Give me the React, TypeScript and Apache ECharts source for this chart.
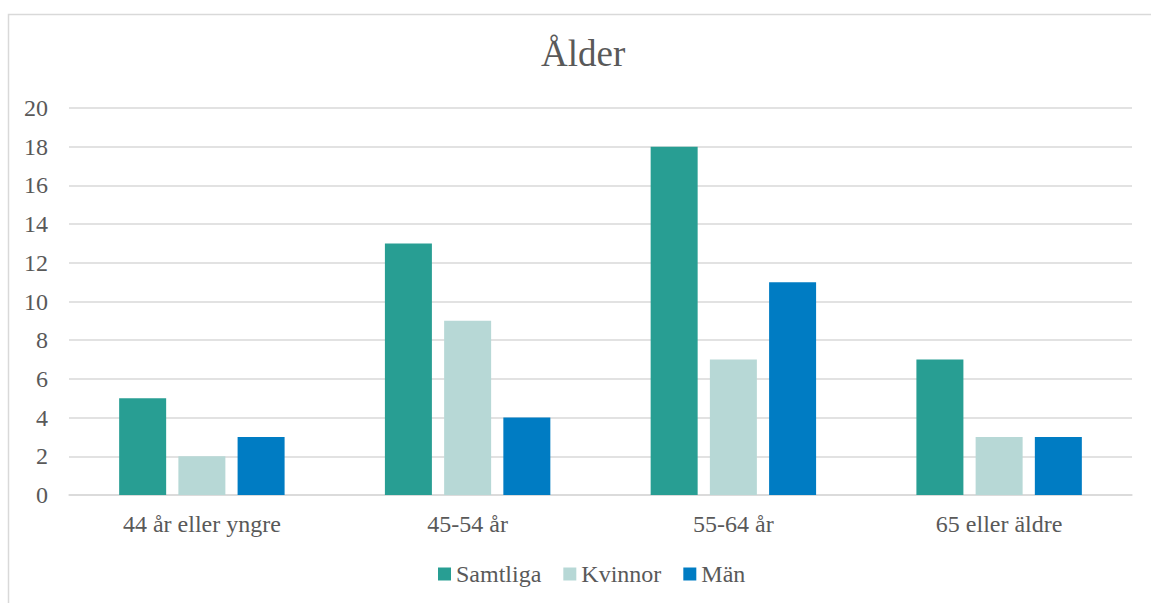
import React, { useEffect, useRef } from "react";
import * as echarts from "echarts";

const categories = ["44 år eller yngre", "45-54 år", "55-64 år", "65 eller äldre"];
const samtliga = [5, 13, 18, 7];
const kvinnor = [2, 9, 7, 3];
const man = [3, 4, 11, 3];
const seriesNames = ["Samtliga", "Kvinnor", "Män"];
const colors = ["#289E93", "#B7D8D6", "#007CC3"];

const FONT = "'Liberation Serif', 'Times New Roman', serif";

export default function App() {
  const ref = useRef<HTMLDivElement>(null);
  useEffect(() => {
    if (!ref.current) return;
    const chart = echarts.init(ref.current, undefined, { renderer: "svg" });
    const data = [samtliga, kvinnor, man];
    chart.setOption({
      animation: false,
      textStyle: { fontFamily: FONT },
      title: {
        text: "Ålder",
        left: 541,
        top: 35,
        padding: 0,
        textStyle: { fontFamily: FONT, fontSize: 37, fontWeight: "normal", color: "#595959" },
      },
      graphic: [
        {
          type: "rect",
          left: 6,
          top: 12,
          shape: { width: 1300, height: 800 },
          style: { fill: "none", stroke: "#D9D9D9", lineWidth: 1.5 },
          silent: true,
        },
      ],
      legend: {
        top: 562,
        left: 438,
        padding: 0,
        itemWidth: 13,
        itemHeight: 13,
        itemGap: 22,
        icon: "rect",
        textStyle: { fontFamily: FONT, fontSize: 24, color: "#595959" },
        data: seriesNames,
      },
      grid: { left: 69, right: 19, top: 108, bottom: 108, containLabel: false },
      xAxis: {
        type: "category",
        data: categories,
        axisLine: { show: true, lineStyle: { color: "#D9D9D9", width: 1.5 } },
        axisTick: { show: false },
        axisLabel: { fontFamily: FONT, fontSize: 24, color: "#595959", margin: 17 },
      },
      yAxis: {
        type: "value",
        min: 0,
        max: 20,
        interval: 2,
        axisLine: { show: false },
        axisTick: { show: false },
        splitLine: { lineStyle: { color: "#D9D9D9", width: 1.5 } },
        axisLabel: { fontFamily: FONT, fontSize: 24, color: "#595959", margin: 21 },
      },
      series: seriesNames.map((name, i) => ({
        name,
        type: "bar",
        data: data[i],
        barWidth: 47,
        barGap: "26%",
        itemStyle: { color: colors[i] },
      })),
    });
    return () => chart.dispose();
  }, []);
  return (
    <div
      ref={ref}
      style={{ position: "fixed", left: 0, top: 0, width: 1151, height: 603, background: "#fff" }}
    />
  );
}
